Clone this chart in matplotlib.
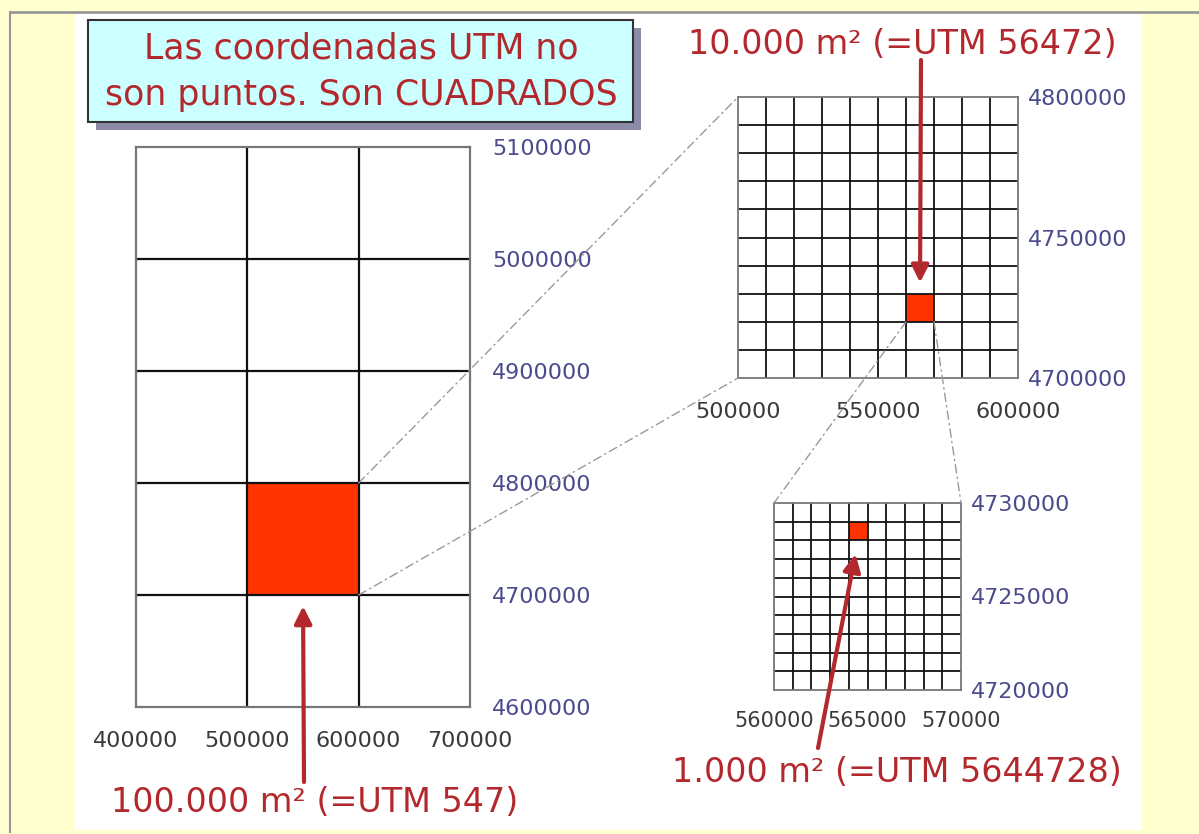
import numpy as np
import matplotlib
matplotlib.use('Agg')
import matplotlib.pyplot as plt
from matplotlib.patches import Rectangle, ConnectionPatch
from matplotlib.lines import Line2D

# datos de las tres cuadriculas UTM
big_x = [400000, 500000, 600000, 700000]
big_y = [4600000, 4700000, 4800000, 4900000, 5000000, 5100000]
big_cell = (500000, 4700000, 100000)   # x0, y0, lado

mid_xticks = [500000, 550000, 600000]
mid_yticks = [4700000, 4750000, 4800000]
mid_step = 10000
mid_cell = (560000, 4720000, 10000)

small_xticks = [560000, 565000, 570000]
small_yticks = [4720000, 4725000, 4730000]
small_step = 1000
small_cell = (564000, 4728000, 1000)

title = "Las coordenadas UTM no\nson puntos. Son CUADRADOS"
label_big = "100.000 m² (=UTM 547)"
label_mid = "10.000 m² (=UTM 56472)"
label_small = "1.000 m² (=UTM 5644728)"

W, H = 1199, 834
RED_FILL = '#FF3300'
RED_TXT = '#B3282D'
BLUE = '#4A4A8C'
GREY_TXT = '#3A3A3A'


def box(x0, y0, x1, y1):
    # pixel box (y from top) -> figure fraction rect
    return [x0 / W, 1 - y1 / H, (x1 - x0) / W, (y1 - y0) / H]


def fx(x, y):
    return (x / W, 1 - y / H)


fig = plt.figure(figsize=(W / 100, H / 100), dpi=100)
fig.patch.set_facecolor('#FFFFD0')

# panel blanco y bordes grises
fig.add_artist(Rectangle((75 / W, 1 - 830 / H), (1142 - 75) / W, (830 - 13) / H,
                         transform=fig.transFigure, facecolor='white', edgecolor='none', zorder=0))
fig.add_artist(Line2D([10 / W, 1], [1 - 12 / H, 1 - 12 / H], transform=fig.transFigure,
                      color='#999999', lw=2))
fig.add_artist(Line2D([10 / W, 10 / W], [1 - 12 / H, 1 - 832 / H], transform=fig.transFigure,
                      color='#999999', lw=1.5))


def grid_axes(rect, xlim, ylim, xs, ys, xticks, yticks, cell, lw, fsx, fsy, xpad, ypad):
    ax = fig.add_axes(rect)
    ax.set_xlim(*xlim)
    ax.set_ylim(*ylim)
    ax.add_patch(Rectangle((cell[0], cell[1]), cell[2], cell[2], facecolor=RED_FILL,
                           edgecolor='none', zorder=1))
    ax.vlines(xs, ylim[0], ylim[1], colors='#111111', lw=lw, zorder=2)
    ax.hlines(ys, xlim[0], xlim[1], colors='#111111', lw=lw, zorder=2)
    for s in ax.spines.values():
        s.set_color('#777777')
        s.set_linewidth(lw)
    ax.set_xticks(xticks)
    ax.set_xticklabels([str(v) for v in xticks], fontsize=fsx, color=GREY_TXT)
    ax.set_yticks(yticks)
    ax.set_yticklabels([str(v) for v in yticks], fontsize=fsy, color=BLUE)
    ax.yaxis.tick_right()
    ax.tick_params(axis='x', length=0, pad=xpad)
    ax.tick_params(axis='y', length=0, pad=ypad)
    ax.set_facecolor('white')
    return ax


ax1 = grid_axes(box(136, 147, 470, 707), (big_x[0], big_x[-1]), (big_y[0], big_y[-1]),
                big_x[1:-1], big_y[1:-1], big_x, big_y, big_cell, 1.6, 16, 16, 17, 16)

mx = np.arange(mid_xticks[0], mid_xticks[-1] + 1, mid_step)
my = np.arange(mid_yticks[0], mid_yticks[-1] + 1, mid_step)
ax2 = grid_axes(box(738, 97, 1018, 378), (mx[0], mx[-1]), (my[0], my[-1]),
                mx[1:-1], my[1:-1], mid_xticks, mid_yticks, mid_cell, 1.3, 16, 16, 17, 7)

sx = np.arange(small_xticks[0], small_xticks[-1] + 1, small_step)
sy = np.arange(small_yticks[0], small_yticks[-1] + 1, small_step)
ax3 = grid_axes(box(774, 503, 961, 690), (sx[0], sx[-1]), (sy[0], sy[-1]),
                sx[1:-1], sy[1:-1], small_xticks, small_yticks, small_cell, 1.3, 15, 16, 15, 7)

# lineas de ampliacion
def link(a, pa, b, pb):
    fig.add_artist(ConnectionPatch(xyA=pa, coordsA=a.transData, xyB=pb, coordsB=b.transData,
                                   color='#999999', lw=1, linestyle=(0, (6, 3, 1, 3)), zorder=0.5))


x0, y0, s = big_cell
link(ax1, (x0 + s, y0 + s), ax2, (mx[0], my[-1]))
link(ax1, (x0 + s, y0), ax2, (mx[0], my[0]))
x0, y0, s = mid_cell
link(ax2, (x0, y0), ax3, (sx[0], sy[-1]))
link(ax2, (x0 + s, y0), ax3, (sx[-1], sy[-1]))

# flechas
arrow = dict(arrowstyle='-|>', color=RED_TXT, lw=3, mutation_scale=26, shrinkA=0)
x0, y0, s = big_cell
ax1.annotate('', xy=(x0 + s / 2, y0), xytext=fx(304, 782), textcoords='figure fraction',
             arrowprops=dict(arrow, shrinkB=8), zorder=5)
x0, y0, s = mid_cell
ax2.annotate('', xy=(x0 + s / 2, y0 + s), xytext=fx(921, 60), textcoords='figure fraction',
             arrowprops=dict(arrow, shrinkB=8), zorder=5)
x0, y0, s = small_cell
ax3.annotate('', xy=(x0 + s / 2, y0), xytext=fx(818, 748), textcoords='figure fraction',
             arrowprops=dict(arrow, shrinkB=10), zorder=5)

# textos rojos
fig.text(*fx(315, 802), label_big, fontsize=24, color=RED_TXT, ha='center', va='center')
fig.text(*fx(902, 45), label_mid, fontsize=24, color=RED_TXT, ha='center', va='center')
fig.text(*fx(897, 773), label_small, fontsize=24, color=RED_TXT, ha='center', va='center')

# recuadro del titulo con sombra
fig.add_artist(Rectangle(fx(96, 130), (633 - 88) / W, (122 - 20) / H, transform=fig.transFigure,
                         facecolor='#8C8CA8', edgecolor='none', zorder=3))
fig.add_artist(Rectangle(fx(88, 122), (633 - 88) / W, (122 - 20) / H, transform=fig.transFigure,
                         facecolor='#CCFFFF', edgecolor='#333333', lw=1.5, zorder=4))
fig.text(*fx(361, 72), title, fontsize=25, color=RED_TXT, ha='center', va='center',
         linespacing=1.45, zorder=5)

fig.savefig('out.png', dpi=100, facecolor=fig.get_facecolor())
